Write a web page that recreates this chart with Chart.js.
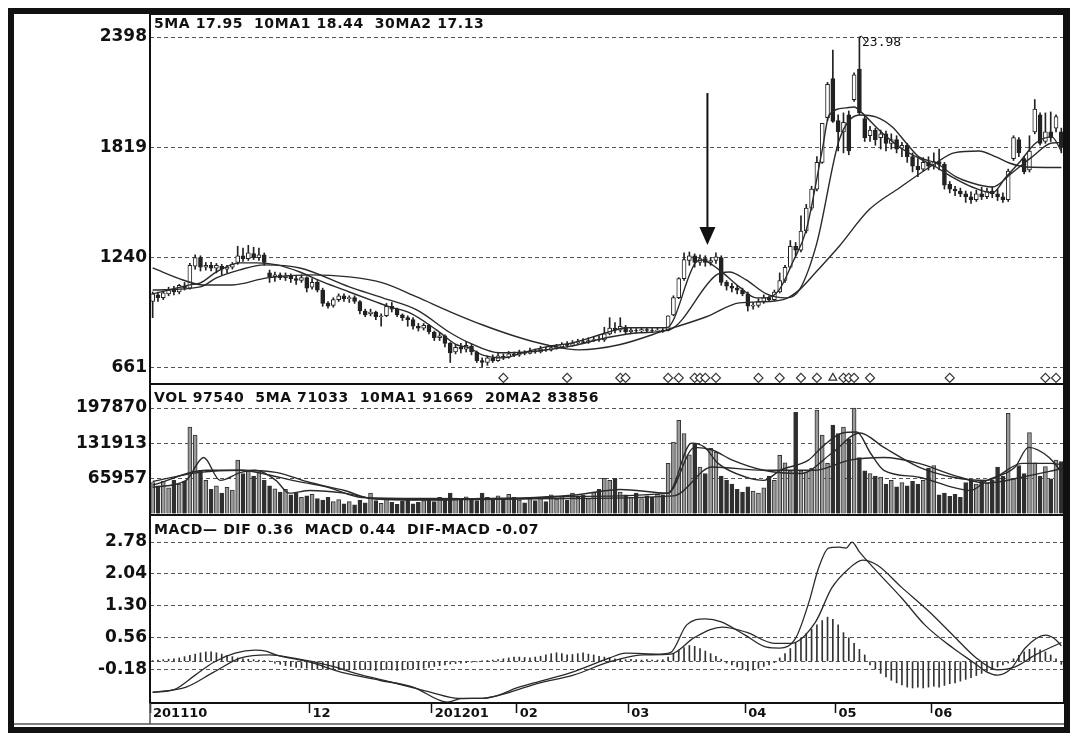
<!DOCTYPE html>
<html>
<head>
<meta charset="utf-8">
<script src="https://cdn.jsdelivr.net/npm/chart.js@4.4.0/dist/chart.umd.min.js"></script>
<style>
  body { margin: 0; background: #fff; }
  #box { position: relative; width: 1082px; height: 748px; }
  canvas { position: absolute; left: 0; top: 0; }
  .hd { position: absolute; font: bold 14px "DejaVu Sans"; color: #111; white-space: pre; letter-spacing: 0.6px; }
</style>
</head>
<body>
<div id="box">
  <canvas id="c" width="1082" height="748"></canvas>
  <div class="hd" style="left:154px;top:15px">5MA 17.95  10MA1 18.44  30MA2 17.13</div>
  <div class="hd" style="left:154px;top:389px">VOL 97540  5MA 71033  10MA1 91669  20MA2 83856</div>
  <div class="hd" style="left:154px;top:521px">MACD— DIF 0.36  MACD 0.44  DIF-MACD -0.07</div>
  <div class="hd" style="left:862px;top:34px;font:13px 'DejaVu Sans Mono';letter-spacing:0">23.98</div>
</div>
<script>
// trading days, Oct 2011 - Jun 2012 (prices in 0.01 yuan, like the axis)
const dayCount = 172;
const days = Array.from({length: dayCount}, (_, i) => i);

const open = [
  1010,1045,1030,1050,1068,1060,1090,1080,1195,1240,1190,1200,1185,1195,1180,1190,1215,1250,1235,1262,
  1240,1255,1160,1140,1150,1135,1145,1130,1120,1135,1085,1110,1070,1000,990,1020,1040,1025,1030,1010,
  960,945,955,930,935,985,970,940,925,915,880,870,885,850,820,830,790,745,770,760,
  775,745,700,690,712,700,722,718,735,728,742,738,750,745,758,755,768,772,785,780,
  792,800,795,805,810,808,840,870,860,875,850,858,855,862,858,855,860,858,940,1030,
  1130,1225,1250,1215,1235,1215,1225,1240,1110,1090,1080,1070,1050,985,990,1010,1030,1020,1060,1120,
  1190,1300,1280,1380,1500,1600,1740,1975,2180,1960,1900,1990,2070,2230,1970,1880,1910,1870,1890,1840,
  1860,1815,1830,1770,1720,1705,1740,1720,1745,1730,1625,1600,1590,1575,1560,1545,1575,1560,1590,1575,
  1560,1545,1760,1860,1760,1700,1900,1990,1850,1900,1920,1900
];
const close = [
  1050,1030,1055,1070,1060,1095,1080,1200,1240,1190,1200,1185,1200,1180,1190,1205,1250,1235,1265,1240,
  1255,1215,1140,1150,1135,1145,1130,1120,1135,1080,1110,1070,1000,985,1020,1040,1025,1030,1010,960,
  940,955,930,935,985,970,940,925,915,880,870,885,850,820,830,790,740,770,760,780,
  745,700,690,715,700,725,718,735,728,742,738,750,745,760,755,768,772,785,780,792,
  800,795,805,810,808,840,870,860,880,850,860,855,862,858,855,860,855,935,1030,1130,
  1230,1250,1215,1235,1215,1225,1245,1110,1090,1080,1070,1050,985,990,1010,1030,1020,1060,1120,1190,
  1300,1280,1380,1500,1600,1740,1945,2150,1955,1900,1950,1800,2200,2000,1870,1910,1860,1890,1840,1860,
  1810,1830,1770,1720,1700,1740,1720,1745,1730,1620,1600,1590,1575,1560,1545,1575,1560,1590,1575,1560,
  1545,1695,1870,1790,1690,1800,2020,1840,1900,1870,1980,1820
];
const high = [
  1060,1060,1065,1085,1090,1100,1110,1210,1255,1250,1215,1215,1210,1205,1200,1215,1300,1290,1305,1295,
  1290,1265,1175,1165,1160,1160,1155,1145,1150,1140,1130,1120,1080,1010,1030,1050,1050,1040,1040,1015,
  970,970,960,945,1000,1005,975,945,935,925,895,895,890,855,845,835,795,785,790,800,
  785,750,715,725,730,740,735,748,745,755,752,765,760,775,770,780,785,795,800,805,
  812,815,820,825,830,875,925,900,925,885,870,868,875,872,868,870,868,935,1040,1135,
  1265,1270,1260,1255,1250,1240,1265,1250,1120,1105,1095,1080,1060,1005,1025,1045,1040,1070,1160,1200,
  1330,1320,1460,1520,1615,1770,1945,2160,2330,1990,2000,2010,2210,2398,1985,1930,1920,1910,1905,1890,
  1880,1845,1840,1790,1760,1765,1770,1790,1810,1740,1640,1615,1605,1590,1585,1595,1610,1605,1612,1600,
  1580,1705,1880,1870,1770,1880,2070,2000,2000,2005,1990,1920
];
const low = [
  925,1010,1020,1040,1045,1050,1070,1075,1180,1170,1175,1170,1160,1150,1160,1180,1205,1220,1225,1230,
  1225,1200,1110,1115,1125,1120,1110,1100,1110,1060,1075,1060,985,975,980,1010,1010,1005,1000,945,
  930,935,915,880,930,955,930,910,880,865,855,860,840,805,805,772,690,735,740,745,
  730,690,668,675,690,695,705,712,720,722,730,735,738,740,748,750,760,765,770,775,
  785,790,790,800,800,800,835,845,850,840,845,845,848,850,848,850,848,855,935,1025,
  1120,1200,1190,1200,1195,1200,1210,1095,1070,1060,1050,1040,960,970,980,1000,1010,1015,1055,1110,
  1185,1250,1270,1370,1490,1590,1735,1960,1950,1800,1790,1780,2060,1990,1850,1850,1830,1810,1800,1810,
  1790,1770,1740,1690,1665,1695,1700,1705,1700,1600,1580,1565,1560,1530,1525,1535,1545,1550,1555,1540,
  1530,1535,1750,1770,1680,1690,1890,1830,1840,1850,1900,1790
];

// moving averages as [day, value]
const ma5 = [[0,1050],[7,1097],[9,1108],[12,1165],[16.4,1213],[19.6,1213],[23.4,1202],[27.7,1165],[32,1113],[37,1060],
  [42,1008],[44.6,982],[48.4,950],[53.4,861],[57.2,783],[59.6,767],[62,730],[66,714],[69.6,741],[74,772],[79,793],
  [85.4,846],[89.2,872],[96.7,872],[102.3,1218],[103.4,1228],[106.6,1176],[110.4,1087],[113.6,1029],[115.5,1029],
  [117.9,1071],[120.4,1213],[123,1386],[126,1805],[127.3,1989],[130.5,2026],[132,2031],[133.5,2000],[136.7,1910],
  [140.5,1821],[144.8,1753],[147.4,1716],[150.4,1664],[154.2,1611],[158,1580],[160.6,1664],[163,1737],[166.2,1842],
  [169.2,1874],[171,1800]];
const ma10 = [[0,1070],[9,1087],[12,1134],[16.4,1176],[21,1202],[27.7,1186],[37,1087],[43.3,1029],[49.7,966],[56,846],
  [59.6,793],[65.3,741],[71,746],[74,756],[79,777],[85.4,820],[91.6,846],[97.2,861],[106.1,1150],[108.5,1165],
  [111.7,1123],[115.5,1050],[119.2,1029],[121.7,1071],[125,1318],[129.2,1858],[133,1989],[136.2,1978],[139.2,1926],
  [141.8,1842],[144.2,1769],[147.4,1737],[151.2,1664],[154.2,1632],[158,1611],[161.7,1685],[165.5,1769],[169.2,1842],
  [171,1844]];
const ma30 = [[0,1186],[5.7,1123],[9.5,1097],[15,1097],[21.5,1134],[29.6,1150],[37,1139],[43.3,1108],[49.7,1034],
  [56,956],[62,888],[68.5,825],[74,783],[80.3,756],[87.8,783],[96.7,861],[104.2,930],[110.4,1003],[116,1010],
  [119.2,1025],[121.7,1071],[125,1170],[129.2,1300],[134.8,1491],[140.5,1606],[147.4,1737],[150.8,1790],[155.5,1800],
  [158.7,1769],[161.2,1737],[164.4,1716],[171,1713]];

const volume = [
  58000,52000,60000,48000,62000,55000,60000,162000,147000,81000,62000,45000,52000,38000,49000,44000,100000,75000,81000,70000,
  78000,62000,52000,46000,40000,45000,35000,38000,30000,33000,36000,28000,25000,30000,22000,26000,18000,22000,16000,25000,
  20000,38000,24000,19000,27000,21000,17000,23000,26000,18000,21000,24000,28000,22000,30000,26000,38000,29000,25000,31000,
  27000,24000,38000,30000,26000,33000,28000,36000,30000,25000,20000,28000,24000,30000,22000,35000,27000,32000,25000,38000,
  30000,34000,28000,40000,45000,66000,62000,66000,40000,35000,30000,38000,28000,33000,30000,36000,35000,94000,134000,175000,
  150000,110000,132000,87000,75000,122000,115000,70000,62000,55000,45000,40000,50000,42000,38000,48000,70000,62000,109000,95000,
  80000,190000,80000,78000,85000,194000,147000,94000,166000,150000,162000,140000,198000,105000,80000,75000,70000,68000,55000,62000,
  50000,58000,52000,60000,55000,62000,85000,90000,35000,38000,32000,36000,30000,58000,62000,55000,60000,57000,62000,87000,
  70000,188000,65000,90000,75000,152000,95000,70000,88000,65000,100000,97540
];
const vol5 = [[0,49000],[6.3,62000],[9.6,105000],[12.7,62000],[16.6,77000],[19.3,81000],[23.2,62000],[25.7,38000],
  [29.6,43000],[36.1,38000],[42,27000],[52,25000],[62,28000],[72,30000],[80,35000],[88,45000],[97,38000],[101.4,132000],
  [103.9,124000],[106.4,94000],[111.7,68000],[115,62000],[118.1,81000],[123.4,100000],[125.9,124000],[129.8,151000],
  [132.5,153000],[135.1,113000],[137.6,81000],[144.2,68000],[150.6,49000],[153.9,43000],[157,62000],[162.3,87000],
  [164.8,124000],[168.7,105000],[171,78000]];
const vol10 = [[0,53000],[10.2,81000],[16.6,81000],[21.9,72000],[26.3,62000],[33,49000],[39.4,30000],[52,28000],
  [66,27000],[80,32000],[97,38000],[102,124000],[105.3,119000],[109.1,100000],[115,81000],[122,75000],[127.8,113000],
  [133.1,151000],[137.6,124000],[144.2,87000],[150.6,68000],[157,62000],[163.6,94000],[169,94000],[171,91669]];
const vol20 = [[0,60000],[8.9,77000],[16.6,81000],[23.2,77000],[29.6,58000],[36.1,43000],[41.3,28000],[56,26000],
  [76,28000],[98,33000],[105.3,87000],[115,81000],[124.7,81000],[131.1,100000],[137.6,105000],[144.2,94000],
  [150.6,72000],[157,57000],[163.6,68000],[171,83856]];

const dif = [[0,-0.72],[4,-0.66],[8,-0.32],[11.5,-0.02],[15.5,0.19],[19.3,0.26],[21.3,0.24],[23.2,0.15],[29.6,-0.02],
  [36,-0.27],[42.7,-0.44],[49,-0.6],[55.5,-0.95],[58,-0.87],[62,-0.86],[65,-0.79],[68.5,-0.62],[73,-0.46],[79,-0.25],
  [86,0.08],[89,0.19],[95.5,0.17],[97.5,0.21],[100.5,0.85],[104,0.99],[107,0.92],[111.5,0.61],[115.5,0.33],[118,0.31],
  [121,0.54],[123.5,1.38],[125.3,2.17],[127.2,2.64],[129.2,2.66],[130.5,2.64],[131.6,2.78],[133,2.55],[136.4,2.08],
  [141,1.47],[145.3,0.85],[150.6,0.31],[154.4,-0.02],[157,-0.25],[159,-0.32],[161.6,-0.16],[164.2,0.31],[168,0.61],
  [170,0.5],[171,0.36]];
const dea = [[0,-0.72],[6.3,-0.6],[11.5,-0.25],[16.6,0.08],[21.9,0.15],[26.3,0.08],[33,-0.09],[39.4,-0.32],[45.8,-0.51],
  [52.4,-0.72],[57.5,-0.86],[62.1,-0.86],[67.2,-0.72],[72.5,-0.51],[79.2,-0.32],[85.8,-0.02],[92.2,0.15],[97.5,0.17],
  [102,0.56],[107.2,0.8],[111.7,0.68],[117,0.42],[120.1,0.42],[124.7,0.91],[127.8,1.71],[131.1,2.17],[133.6,2.36],
  [136.4,2.24],[140.9,1.73],[146.2,1.15],[150.6,0.61],[155,0.08],[158.9,-0.2],[162.3,-0.13],[166.1,0.15],[171,0.44]];
const macdBar = [
  0.02,0.03,0.04,0.05,0.06,
  0.08,0.11,0.14,0.17,0.2,0.22,0.22,0.2,0.17,0.14,0.11,0.08,
  0.06,0.05,0.04,0.03,0.02,0.01,
  -0.04,-0.07,-0.1,-0.12,-0.14,-0.15,-0.16,-0.17,-0.18,-0.18,-0.17,-0.18,-0.19,-0.2,-0.2,-0.19,-0.18,-0.19,-0.2,-0.21,
  -0.2,-0.19,-0.2,-0.21,-0.2,-0.18,-0.17,-0.18,-0.16,-0.14,-0.12,-0.1,-0.08,-0.06,-0.05,-0.04,-0.03,-0.02,-0.01,
  0.01,0.02,0.03,0.04,0.06,0.08,0.1,0.1,0.09,0.08,0.1,
  0.12,0.15,0.18,0.2,0.18,0.15,0.16,0.18,0.2,0.17,0.15,0.12,0.1,0.08,0.06,0.05,0.04,0.05,0.04,0.03,0.04,0.03,0.03,0.04,
  0.1,0.18,0.26,0.32,0.37,0.35,0.3,0.24,0.18,0.12,0.05,
  -0.04,-0.08,-0.13,-0.18,-0.22,-0.2,-0.16,-0.12,-0.08,-0.03,
  0.08,0.18,0.3,0.42,0.55,0.65,0.75,0.85,0.95,1.03,0.98,0.85,0.67,0.55,0.42,0.28,0.15,
  -0.08,-0.18,-0.28,-0.36,-0.44,-0.5,-0.55,-0.6,-0.62,-0.6,-0.62,-0.6,-0.58,-0.6,-0.56,-0.52,-0.5,-0.46,-0.42,-0.38,
  -0.33,-0.28,-0.23,-0.18,-0.13,-0.08,-0.04,
  0.06,0.14,0.22,0.28,0.31,0.27,0.22,0.15,0.06,-0.07
];

// signal markers along the bottom of the price panel
const signalDays = [66,78,88,89,97,99,102,103,104,106,114,118,122,125,130,131,132,135,150,168,170];
const signalUpDays = [128];
const signalLevel = 609;

const priceTicks = [661, 1240, 1819, 2398];
const volTicks = [65957, 131913, 197870];
const macdTicks = [-0.18, 0, 0.56, 1.30, 2.04, 2.78];
const monthStart = [0, 30, 53, 69, 90, 112, 129, 147];
const monthLabel = ['201110', '12', '201201', '02', '03', '04', '05', '06'];

const arrowDay = 104.4, arrowTop = 2104, arrowTip = 1307;
const peakDay = 133, peakValue = 2398;

Chart.defaults.font.family = 'DejaVu Sans';
Chart.defaults.color = '#111';

const dark = '#222';
const up = days.map(i => close[i] >= open[i]);

const lineDs = (data, axis, w) => ({
  type: 'line', data, yAxisID: axis, borderColor: '#2a2a2a', borderWidth: w,
  pointRadius: 0, cubicInterpolationMode: 'monotone', order: 1
});

const frames = {
  id: 'frames',
  afterDraw(chart) {
    const {ctx, chartArea: a, scales} = chart;
    ctx.save();
    ctx.strokeStyle = '#111';
    ctx.lineWidth = 2;
    ['yP', 'yV', 'yM'].forEach(id => {
      const s = scales[id];
      ctx.strokeRect(a.left, s.top, a.right - a.left, s.bottom - s.top);
    });
    // label strip under the panels
    ctx.lineWidth = 1.5;
    ctx.strokeStyle = '#555';
    ctx.beginPath();
    ctx.moveTo(14, 724); ctx.lineTo(a.right, 724);
    ctx.moveTo(a.left, a.bottom); ctx.lineTo(a.left, 724);
    ctx.stroke();
    // outer frame
    ctx.strokeStyle = '#111';
    ctx.lineWidth = 6;
    ctx.strokeRect(11, 11, a.right + 3 - 11, 730 - 11);

    // arrow
    const x = scales.x.getPixelForValue(arrowDay);
    const y1 = scales.yP.getPixelForValue(arrowTop);
    const y2 = scales.yP.getPixelForValue(arrowTip);
    ctx.fillStyle = '#111';
    ctx.lineWidth = 2;
    ctx.beginPath();
    ctx.moveTo(x, y1); ctx.lineTo(x, y2 - 14);
    ctx.stroke();
    ctx.beginPath();
    ctx.moveTo(x - 8, y2 - 18); ctx.lineTo(x + 8, y2 - 18); ctx.lineTo(x, y2);
    ctx.closePath(); ctx.fill();

    // peak marker hook
    const px = scales.x.getPixelForValue(peakDay);
    const py = scales.yP.getPixelForValue(peakValue);
    ctx.lineWidth = 1;
    ctx.beginPath();
    ctx.moveTo(px, py); ctx.lineTo(px + 2, py - 1); ctx.lineTo(px + 7, py + 5);
    ctx.stroke();
    ctx.restore();
  }
};

const yAxis = (ticks, min, max, weight, stackWeight, fmt) => ({
  type: 'linear', position: 'left', stack: 'panels', stackWeight, weight, min, max,
  afterFit: s => { s.width = 136; },
  afterBuildTicks: s => { s.ticks = ticks.map(v => ({value: v})); },
  grid: { color: '#555', lineWidth: 1, drawTicks: false },
  border: { display: false, dash: [4, 3] },
  ticks: { font: { size: 17, weight: 'bold' }, padding: 3, color: '#111', autoSkip: false, callback: fmt }
});

new Chart(document.getElementById('c'), {
  type: 'bar',
  data: {
    labels: days,
    datasets: [
      { data: days.map(i => [low[i], high[i]]), yAxisID: 'yP', grouped: false, barThickness: 1,
        backgroundColor: dark, order: 3 },
      { data: days.map(i => [open[i], close[i]]), yAxisID: 'yP', grouped: false, barThickness: 4,
        backgroundColor: days.map(i => up[i] ? '#fff' : dark), borderColor: dark, borderWidth: 1,
        borderSkipped: false, order: 2 },
      lineDs(ma5, 'yP', 1.4), lineDs(ma10, 'yP', 1.4), lineDs(ma30, 'yP', 1.4),
      { type: 'scatter', data: signalDays.map(d => ({x: d, y: signalLevel})), yAxisID: 'yP',
        pointStyle: 'rectRot', pointRadius: 4.5, borderColor: '#333', borderWidth: 1.2,
        backgroundColor: '#fff', order: 0 },
      { type: 'scatter', data: signalUpDays.map(d => ({x: d, y: signalLevel})), yAxisID: 'yP',
        pointStyle: 'triangle', pointRadius: 4.5, borderColor: '#333', borderWidth: 1.2,
        backgroundColor: '#fff', order: 0 },
      { data: volume, yAxisID: 'yV', grouped: false, barThickness: 4,
        backgroundColor: days.map(i => up[i] ? '#9a9a9a' : '#2e2e2e'), borderColor: '#333', borderWidth: 1,
        borderSkipped: 'bottom', order: 2 },
      lineDs(vol5, 'yV', 1.4), lineDs(vol10, 'yV', 1.4), lineDs(vol20, 'yV', 1.4),
      { data: macdBar, yAxisID: 'yM', grouped: false, barThickness: 1, backgroundColor: '#333', order: 2 },
      lineDs(dif, 'yM', 1.3), lineDs(dea, 'yM', 1.3)
    ]
  },
  options: {
    responsive: false,
    animation: false,
    devicePixelRatio: 1,
    layout: { padding: { left: 14, right: 18, top: 14, bottom: 24 } },
    plugins: { legend: { display: false }, tooltip: { enabled: false } },
    scales: {
      x: {
        type: 'linear', min: -0.5, max: dayCount - 0.5, offset: false,
        afterFit: s => { s.height = 21; },
        afterBuildTicks: s => { s.ticks = monthStart.map(d => ({value: d - 0.5})); },
        grid: { offset: false, drawOnChartArea: false, drawTicks: true, tickLength: 10, tickColor: '#111', tickWidth: 1.5 },
        border: { display: true, color: '#111', width: 2 },
        ticks: { align: 'start', autoSkip: false, maxRotation: 0, padding: -7, labelOffset: 3,
          font: { size: 13, weight: 'bold' }, color: '#111',
          callback: (v, i) => monthLabel[i] }
      },
      yP: yAxis(priceTicks, 577, 2519, 3, 370, v => String(v)),
      yV: yAxis(volTicks, -3000, 243000, 2, 131, v => String(v)),
      yM: yAxis(macdTicks, -0.97, 3.41, 1, 188, v => v === 0 ? '' : v.toFixed(2))
    }
  },
  plugins: [frames]
});
</script>
</body>
</html>
